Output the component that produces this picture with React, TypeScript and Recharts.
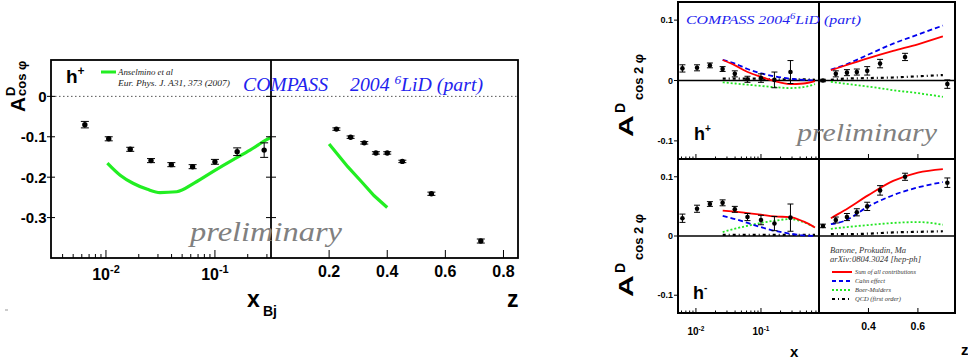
import React from 'react';
import { ComposedChart, Line, Scatter, XAxis, YAxis, ErrorBar, ReferenceLine } from 'recharts';

const SANS = '"Liberation Sans", Arial, Helvetica, sans-serif';
const SERIF = '"Liberation Serif", "Times New Roman", serif';

// ---------- Left figure: A^D_cos phi, h+ ----------
const xbjBins = [0.0064, 0.0106, 0.0167, 0.0259, 0.0398, 0.0624, 0.1, 0.16, 0.283];
const xbjAsym = [-0.070, -0.105, -0.131, -0.159, -0.169, -0.174, -0.162, -0.137, -0.133];
const xbjErr = [0.008, 0.005, 0.005, 0.005, 0.005, 0.005, 0.006, 0.0095, 0.018];
const anselXbjX = [0.0103, 0.0135, 0.0177, 0.024, 0.0313, 0.0446, 0.065, 0.1, 0.146, 0.21, 0.298, 0.327];
const anselXbjY = [-0.165, -0.195, -0.215, -0.23, -0.238, -0.236, -0.214, -0.183, -0.157, -0.133, -0.107, -0.101];
const zBinsL = [0.225, 0.274, 0.321, 0.361, 0.40, 0.452, 0.552, 0.722];
const zAsymL = [-0.081, -0.101, -0.115, -0.140, -0.140, -0.161, -0.241, -0.358];
const zErrL = [0.003, 0.003, 0.003, 0.003, 0.003, 0.003, 0.004, 0.005];
const anselZX = [0.2, 0.264, 0.31, 0.355, 0.4];
const anselZY = [-0.118, -0.174, -0.21, -0.246, -0.275];

const xbjTicks = [0.004, 0.005, 0.006, 0.007, 0.008, 0.009, 0.01, 0.02, 0.03, 0.04, 0.05, 0.06, 0.07, 0.08, 0.09, 0.1, 0.2, 0.3];
const xbjMajor = [0.01, 0.1];
const zTicksL = [0.2, 0.4, 0.6, 0.8];
const yTicksL = [-0.3, -0.2, -0.1, 0];

// ---------- Right figure: A^D_cos 2phi, h+ / h- ----------
const xBinsR = [0.0062, 0.0104, 0.0164, 0.0257, 0.0396, 0.062, 0.1, 0.161, 0.284];
const hpX = [0.020, 0.021, 0.025, 0.019, 0.011, 0.002, 0.004, 0.001, 0.014];
const hpXErr = [0.006, 0.005, 0.004, 0.004, 0.005, 0.005, 0.007, 0.013, 0.019];
const hmX = [0.030, 0.046, 0.054, 0.056, 0.045, 0.032, 0.027, 0.021, 0.031];
const hmXErr = [0.007, 0.006, 0.004, 0.005, 0.005, 0.006, 0.008, 0.012, 0.023];

const zBinsR = [0.216, 0.268, 0.313, 0.353, 0.395, 0.447, 0.548, 0.719];
const hpZ = [0.0, 0.011, 0.013, 0.014, 0.016, 0.028, 0.039, -0.006];
const hpZErr = [0.002, 0.005, 0.005, 0.005, 0.007, 0.007, 0.006, 0.007];
const hmZ = [0.017, 0.027, 0.032, 0.040, 0.050, 0.077, 0.100, 0.090];
const hmZErr = [0.003, 0.005, 0.006, 0.006, 0.007, 0.008, 0.006, 0.008];

const thX = [0.0258, 0.04, 0.0624, 0.1, 0.16, 0.279, 0.448, 0.677];
const hpXSum = [0.034, 0.025, 0.014, 0.006, -0.001, -0.006, -0.005, -0.001];
const hpXCahn = [0.034, 0.028, 0.019, 0.012, 0.007, 0.003, 0.001, 0.0];
const hpXBM = [-0.003, -0.005, -0.007, -0.009, -0.011, -0.0125, -0.011, -0.006];
const hpXQCD = [0.003, 0.003, 0.003, 0.003, 0.002, 0.002, 0.002, 0.001];
const hmXSum = [0.043, 0.041, 0.0386, 0.036, 0.033, 0.032, 0.0246, 0.0145];
const hmXCahn = [0.034, 0.0286, 0.022, 0.015, 0.009, 0.004, 0.001, 0.0];
const hmXBM = [0.0067, 0.0123, 0.0173, 0.022, 0.0257, 0.0286, 0.0235, 0.0145];
const hmXQCD = [0.002, 0.002, 0.002, 0.002, 0.002, 0.002, 0.002, 0.002];

const thZ = [0.248, 0.3, 0.4, 0.5, 0.6, 0.701];
const hpZSum = [0.017, 0.024, 0.037, 0.049, 0.060, 0.073];
const hpZCahn = [0.018, 0.025, 0.043, 0.061, 0.076, 0.091];
const hpZBM = [-0.002, -0.005, -0.010, -0.016, -0.021, -0.027];
const hpZQCD = [0.001, 0.003, 0.004, 0.005, 0.007, 0.009];
const hmZSum = [0.030, 0.0425, 0.069, 0.093, 0.107, 0.113];
const hmZCahn = [0.020, 0.025, 0.050, 0.069, 0.082, 0.091];
const hmZBM = [0.012, 0.0145, 0.0185, 0.022, 0.0235, 0.019];
const hmZQCD = [0.003, 0.003, 0.004, 0.006, 0.007, 0.008];

const xTicksR = [0.006, 0.007, 0.008, 0.009, 0.01, 0.02, 0.03, 0.04, 0.05, 0.06, 0.07, 0.08, 0.09, 0.1, 0.2, 0.3, 0.4, 0.5, 0.6, 0.7];
const xMajorR = [0.01, 0.1];
const zTicksR = [0.4, 0.6];
const yTicksR = [-0.1, 0, 0.1];

type P = { x: number; y: number; err: number };
const pts = (xs: number[], ys: number[], es?: number[]): P[] =>
  xs.map((x, i) => ({ x, y: ys[i], err: es ? es[i] : 0 }));

const isIn = (v: number, arr: number[]) => arr.some((m) => Math.abs(m - v) < 1e-9);

function makeXTick(o: {
  bottom: number; majors: number[]; majorLen: number; minorLen: number;
  labelY?: number; fontSize?: number; supSize?: number; supDy?: number; log?: boolean;
}) {
  return (props: any) => {
    const { x, payload } = props;
    const v = payload.value as number;
    const major = isIn(v, o.majors);
    const len = major ? o.majorLen : o.minorLen;
    let label: any = null;
    if (major && o.labelY !== undefined) {
      if (o.log) {
        const e = Math.round(Math.log10(v));
        label = (
          <text x={x} y={o.labelY} textAnchor="middle" fontFamily={SANS} fontWeight="bold" fontSize={o.fontSize} fill="#000">
            <tspan>10</tspan>
            <tspan dy={-(o.supDy || 6)} fontSize={o.supSize}>{String(e)}</tspan>
          </text>
        );
      } else {
        label = (
          <text x={x} y={o.labelY} textAnchor="middle" fontFamily={SANS} fontWeight="bold" fontSize={o.fontSize} fill="#000">
            {String(v)}
          </text>
        );
      }
    }
    return (
      <g>
        <line x1={x} x2={x} y1={o.bottom} y2={o.bottom - len} stroke="#000" strokeWidth={1} />
        {label}
      </g>
    );
  };
}

function makeYTick(o: { labelRight?: number; t1: number; t2: number; fontSize?: number }) {
  return (props: any) => {
    const { y, payload } = props;
    const v = payload.value as number;
    return (
      <g>
        <line x1={o.t1} x2={o.t2} y1={y} y2={y} stroke="#000" strokeWidth={1} />
        {o.labelRight !== undefined && (
          <text x={o.labelRight} y={y} dy={(o.fontSize || 10) * 0.36} textAnchor="end" fontFamily={SANS} fontWeight="bold" fontSize={o.fontSize} fill="#000">
            {String(v)}
          </text>
        )}
      </g>
    );
  };
}

const dot = (r: number) => (p: any) => <circle cx={p.cx} cy={p.cy} r={r} fill="#000" />;

type Series = { sum: P[]; cahn: P[]; bm: P[]; qcd: P[]; pts: P[] };

const curveLines = (s: Series) => [
  <Line key="bm" data={s.bm} dataKey="y" type="monotone" stroke="#22e622" strokeWidth={1.8} strokeDasharray="2 2" dot={false} isAnimationActive={false} />,
  <Line key="qcd" data={s.qcd} dataKey="y" type="monotone" stroke="#000" strokeWidth={2.2} strokeDasharray="3 3 1 3" dot={false} isAnimationActive={false} />,
  <Line key="cahn" data={s.cahn} dataKey="y" type="monotone" stroke="#0000ee" strokeWidth={1.8} strokeDasharray="5 3" dot={false} isAnimationActive={false} />,
  <Line key="sum" data={s.sum} dataKey="y" type="monotone" stroke="#ff0000" strokeWidth={1.8} dot={false} isAnimationActive={false} />,
  <Scatter key="pts" data={s.pts} dataKey="y" shape={dot(2.3)} isAnimationActive={false}>
    <ErrorBar dataKey="err" width={3} stroke="#000" strokeWidth={1} direction="y" />
  </Scatter>,
];

const hpXSeries: Series = {
  sum: pts(thX, hpXSum), cahn: pts(thX, hpXCahn), bm: pts(thX, hpXBM), qcd: pts(thX, hpXQCD), pts: pts(xBinsR, hpX, hpXErr),
};
const hmXSeries: Series = {
  sum: pts(thX, hmXSum), cahn: pts(thX, hmXCahn), bm: pts(thX, hmXBM), qcd: pts(thX, hmXQCD), pts: pts(xBinsR, hmX, hmXErr),
};
const hpZSeries: Series = {
  sum: pts(thZ, hpZSum), cahn: pts(thZ, hpZCahn), bm: pts(thZ, hpZBM), qcd: pts(thZ, hpZQCD), pts: pts(zBinsR, hpZ, hpZErr),
};
const hmZSeries: Series = {
  sum: pts(thZ, hmZSum), cahn: pts(thZ, hmZCahn), bm: pts(thZ, hmZBM), qcd: pts(thZ, hmZQCD), pts: pts(zBinsR, hmZ, hmZErr),
};

const abs = (left: number, top: number): React.CSSProperties => ({ position: 'absolute', left, top });

function RightPanel(p: {
  left: number; top: number; width: number; height: number; marginTop: number;
  yW: number; xH: number; log: boolean; domain: [number, number]; ticks: number[];
  tick: any; yTick: any; series: Series;
}) {
  return (
    <div style={abs(p.left, p.top)}>
      <ComposedChart width={p.width} height={p.height} margin={{ top: p.marginTop, right: 1, bottom: 0, left: 0 }}>
        <XAxis
          type="number" dataKey="x" scale={p.log ? 'log' : 'linear'} domain={p.domain} allowDataOverflow
          ticks={p.ticks} interval={0} height={p.xH} axisLine={false} tickLine={false} tick={p.tick}
        />
        <YAxis
          type="number" dataKey="y" domain={[-0.13, 0.13]} allowDataOverflow ticks={yTicksR} interval={0}
          width={p.yW} axisLine={false} tickLine={false} tick={p.yTick}
        />
        <ReferenceLine y={0} stroke="#000" strokeWidth={1.5} />
        {curveLines(p.series)}
      </ComposedChart>
    </div>
  );
}

export default function App() {
  const xbjData = pts(xbjBins, xbjAsym, xbjErr);
  const zDataL = pts(zBinsL, zAsymL, zErrL);
  const anselXbj = pts(anselXbjX, anselXbjY);
  const anselZ = pts(anselZX, anselZY);

  const legendR = [
    { y: 272, color: '#ff0000', dash: undefined as string | undefined, w: 2, text: 'Sum of all contributions', len: 61 },
    { y: 281, color: '#0000ee', dash: '4 3', w: 1.8, text: 'Cahn effect', len: 30 },
    { y: 290, color: '#22e622', dash: '2 2', w: 1.8, text: 'Boer-Mulders', len: 36 },
    { y: 299, color: '#000', dash: '3 3 1 3', w: 2.2, text: 'QCD (first order)', len: 46 },
  ];

  return (
    <div style={{ position: 'absolute', left: 0, top: 0, width: 968, height: 364, background: '#fff', overflow: 'hidden' }}>
      {/* Left figure, x_Bj panel */}
      <div style={abs(0, 0)}>
        <ComposedChart width={272} height={300} margin={{ top: 60, right: 0, bottom: 0, left: 0 }}>
          <XAxis
            type="number" dataKey="x" scale="log" domain={[0.00313, 0.327]} allowDataOverflow ticks={xbjTicks} interval={0}
            height={42} axisLine={false} tickLine={false}
            tick={makeXTick({ bottom: 258, majors: xbjMajor, majorLen: 8, minorLen: 4, labelY: 280, fontSize: 16, supSize: 11, supDy: 7, log: true })}
          />
          <YAxis
            type="number" dataKey="y" domain={[-0.4, 0.09]} allowDataOverflow ticks={yTicksL} interval={0} width={51}
            axisLine={false} tickLine={false} tick={makeYTick({ labelRight: 46.5, t1: 47, t2: 55, fontSize: 15 })}
          />
          <YAxis
            yAxisId="r" orientation="right" type="number" domain={[-0.4, 0.09]} allowDataOverflow ticks={yTicksL} interval={0}
            width={1} axisLine={false} tickLine={false} tick={makeYTick({ t1: 266, t2: 271 })}
          />
          <ReferenceLine y={0} stroke="#555" strokeWidth={1} strokeDasharray="1.5 2.5" />
          <Line data={anselXbj} dataKey="y" type="monotone" stroke="#22ee22" strokeWidth={3.2} dot={false} isAnimationActive={false} />
          <Scatter data={xbjData} dataKey="y" shape={dot(2.7)} isAnimationActive={false}>
            <ErrorBar dataKey="err" width={4} stroke="#000" strokeWidth={1} direction="y" />
          </Scatter>
        </ComposedChart>
      </div>
      {/* Left figure, z panel */}
      <div style={abs(270, 0)}>
        <ComposedChart width={249} height={300} margin={{ top: 60, right: 1, bottom: 0, left: 0 }}>
          <XAxis
            type="number" dataKey="x" domain={[0, 0.85]} allowDataOverflow ticks={zTicksL} interval={0}
            height={42} axisLine={false} tickLine={false}
            tick={makeXTick({ bottom: 258, majors: zTicksL, majorLen: 8, minorLen: 4, labelY: 277, fontSize: 16 })}
          />
          <YAxis
            type="number" dataKey="y" domain={[-0.4, 0.09]} allowDataOverflow ticks={yTicksL} interval={0} width={1}
            axisLine={false} tickLine={false} tick={makeYTick({ t1: 1, t2: 6 })}
          />
          <ReferenceLine y={0} stroke="#555" strokeWidth={1} strokeDasharray="1.5 2.5" />
          <Line data={anselZ} dataKey="y" type="linear" stroke="#22ee22" strokeWidth={3.2} dot={false} isAnimationActive={false} />
          <Scatter data={zDataL} dataKey="y" shape={dot(2.7)} isAnimationActive={false}>
            <ErrorBar dataKey="err" width={4} stroke="#000" strokeWidth={1} direction="y" />
          </Scatter>
        </ComposedChart>
      </div>

      {/* Right figure panels */}
      <RightPanel
        left={600} top={0} width={220} height={172} marginTop={2} yW={78} xH={13} log domain={[0.0053, 0.78]} ticks={xTicksR}
        tick={makeXTick({ bottom: 159, majors: xMajorR, majorLen: 5, minorLen: 2.5 })}
        yTick={makeYTick({ labelRight: 73, t1: 74, t2: 78, fontSize: 9 })}
        series={hpXSeries}
      />
      <RightPanel
        left={818} top={0} width={138} height={172} marginTop={2} yW={1} xH={13} log={false} domain={[0.2, 0.75]} ticks={zTicksR}
        tick={makeXTick({ bottom: 159, majors: zTicksR, majorLen: 5, minorLen: 2.5 })}
        yTick={false}
        series={hpZSeries}
      />
      <RightPanel
        left={600} top={159} width={220} height={205} marginTop={0} yW={78} xH={51} log domain={[0.0053, 0.78]} ticks={xTicksR}
        tick={makeXTick({ bottom: 154, majors: xMajorR, majorLen: 5, minorLen: 2.5, labelY: 176, fontSize: 10, supSize: 6.5, supDy: 4, log: true })}
        yTick={makeYTick({ labelRight: 73, t1: 74, t2: 78, fontSize: 9 })}
        series={hmXSeries}
      />
      <RightPanel
        left={818} top={159} width={138} height={205} marginTop={0} yW={1} xH={51} log={false} domain={[0.2, 0.75]} ticks={zTicksR}
        tick={makeXTick({ bottom: 154, majors: zTicksR, majorLen: 5, minorLen: 2.5, labelY: 171, fontSize: 10.5 })}
        yTick={false}
        series={hmZSeries}
      />

      {/* Annotation overlay: frames, labels, legends */}
      <svg width={968} height={364} style={{ position: 'absolute', left: 0, top: 0, pointerEvents: 'none' }}>
        {/* left frame */}
        <rect x={51} y={60} width={467} height={198} fill="none" stroke="#000" strokeWidth={1.8} />
        <line x1={271} x2={271} y1={60} y2={258} stroke="#000" strokeWidth={1.8} />
        {/* left texts */}
        <text x={66} y={83} fontFamily={SANS} fontWeight="bold" fontSize={19} fill="#000">
          h<tspan dy={-8} fontSize={12}>+</tspan>
        </text>
        <line x1={101} x2={116} y1={72} y2={72} stroke="#22ee22" strokeWidth={3} />
        <text x={118} y={75} fontFamily={SERIF} fontStyle="italic" fontSize={8.5} fill="#222" textLength={55} lengthAdjust="spacingAndGlyphs">Anselmino et al</text>
        <text x={118} y={86} fontFamily={SERIF} fontStyle="italic" fontSize={8.5} fill="#222" textLength={112} lengthAdjust="spacingAndGlyphs">Eur. Phys. J.  A31, 373 (2007)</text>
        <text x={243} y={91} fontFamily={SERIF} fontStyle="italic" fontSize={18} fill="#2222ee" textLength={85} lengthAdjust="spacingAndGlyphs">COMPASS</text>
        <text x={350} y={91} fontFamily={SERIF} fontStyle="italic" fontSize={18} fill="#2222ee" textLength={133} lengthAdjust="spacingAndGlyphs">
          2004 <tspan dy={-7} fontSize={12}>6</tspan><tspan dy={7}>LiD (part)</tspan>
        </text>
        <text x={190} y={241} fontFamily={SERIF} fontStyle="italic" fontSize={28} fill="#808080" textLength={152} lengthAdjust="spacingAndGlyphs">preliminary</text>
        <text transform="translate(25,112) rotate(-90)" fontFamily={SANS} fontWeight="bold" fontSize={21} fill="#000">A</text>
        <text transform="translate(15,96) rotate(-90)" fontFamily={SANS} fontWeight="bold" fontSize={13} fill="#000">D</text>
        <text transform="translate(26,96) rotate(-90)" fontFamily={SANS} fontWeight="bold" fontSize={13} fill="#000">cos φ</text>
        <text x={247} y={307} fontFamily={SANS} fontWeight="bold" fontSize={23} fill="#000">x</text>
        <text x={263} y={316} fontFamily={SANS} fontWeight="bold" fontSize={14} fill="#000">Bj</text>
        <text x={507} y={307} fontFamily={SANS} fontWeight="bold" fontSize={23} fill="#000">z</text>
        <line x1={5} x2={8} y1={310} y2={310} stroke="#999" strokeWidth={1} />

        {/* right frame */}
        <rect x={678} y={2} width={277} height={311} fill="none" stroke="#000" strokeWidth={2} />
        <line x1={678} x2={955} y1={159} y2={159} stroke="#000" strokeWidth={2} />
        <line x1={819} x2={819} y1={2} y2={313} stroke="#000" strokeWidth={2} />
        {/* right texts */}
        <text x={686} y={24} fontFamily={SERIF} fontStyle="italic" fontSize={13.5} fill="#2222ee" textLength={175} lengthAdjust="spacingAndGlyphs">
          COMPASS 2004<tspan dy={-5} fontSize={9}>6</tspan><tspan dy={5}>LiD (part)</tspan>
        </text>
        <text x={694} y={140} fontFamily={SANS} fontWeight="bold" fontSize={18} fill="#000">
          h<tspan dy={-8} fontSize={10}>+</tspan>
        </text>
        <text x={693} y={299} fontFamily={SANS} fontWeight="bold" fontSize={18} fill="#000">
          h<tspan dy={-8} fontSize={10}>-</tspan>
        </text>
        <text x={797} y={141} fontFamily={SERIF} fontStyle="italic" fontSize={25} fill="#808080" textLength={140} lengthAdjust="spacingAndGlyphs">preliminary</text>
        <text transform="translate(633,137) scale(0.66,1) rotate(-90)" fontFamily={SANS} fontWeight="bold" fontSize={30} fill="#000">A</text>
        <text transform="translate(625,113) rotate(-90)" fontFamily={SANS} fontWeight="bold" fontSize={14} fill="#000">D</text>
        <text transform="translate(643,100) rotate(-90)" fontFamily={SANS} fontWeight="bold" fontSize={13} fill="#000">cos 2 φ</text>
        <text transform="translate(633,297) scale(0.66,1) rotate(-90)" fontFamily={SANS} fontWeight="bold" fontSize={30} fill="#000">A</text>
        <text transform="translate(625,273) rotate(-90)" fontFamily={SANS} fontWeight="bold" fontSize={14} fill="#000">D</text>
        <text transform="translate(643,260) rotate(-90)" fontFamily={SANS} fontWeight="bold" fontSize={13} fill="#000">cos 2 φ</text>
        <text x={790} y={357} fontFamily={SANS} fontWeight="bold" fontSize={15} fill="#000">x</text>
        <text x={961} y={355} fontFamily={SANS} fontWeight="bold" fontSize={15} fill="#000">z</text>
        {/* right legend */}
        <text x={830} y={253} fontFamily={SERIF} fontStyle="italic" fontSize={8} fill="#333" textLength={76} lengthAdjust="spacingAndGlyphs">Barone, Prokudin, Ma</text>
        <text x={830} y={262} fontFamily={SERIF} fontStyle="italic" fontSize={8} fill="#333" textLength={91} lengthAdjust="spacingAndGlyphs">arXiv:0804.3024 [hep-ph]</text>
        {legendR.map((l) => (
          <g key={l.text}>
            <line x1={832} x2={852} y1={l.y} y2={l.y} stroke={l.color} strokeWidth={l.w} strokeDasharray={l.dash} />
            <text x={855} y={l.y + 2} fontFamily={SERIF} fontStyle="italic" fontSize={6.5} fill="#333" textLength={l.len} lengthAdjust="spacingAndGlyphs">{l.text}</text>
          </g>
        ))}
      </svg>
    </div>
  );
}
